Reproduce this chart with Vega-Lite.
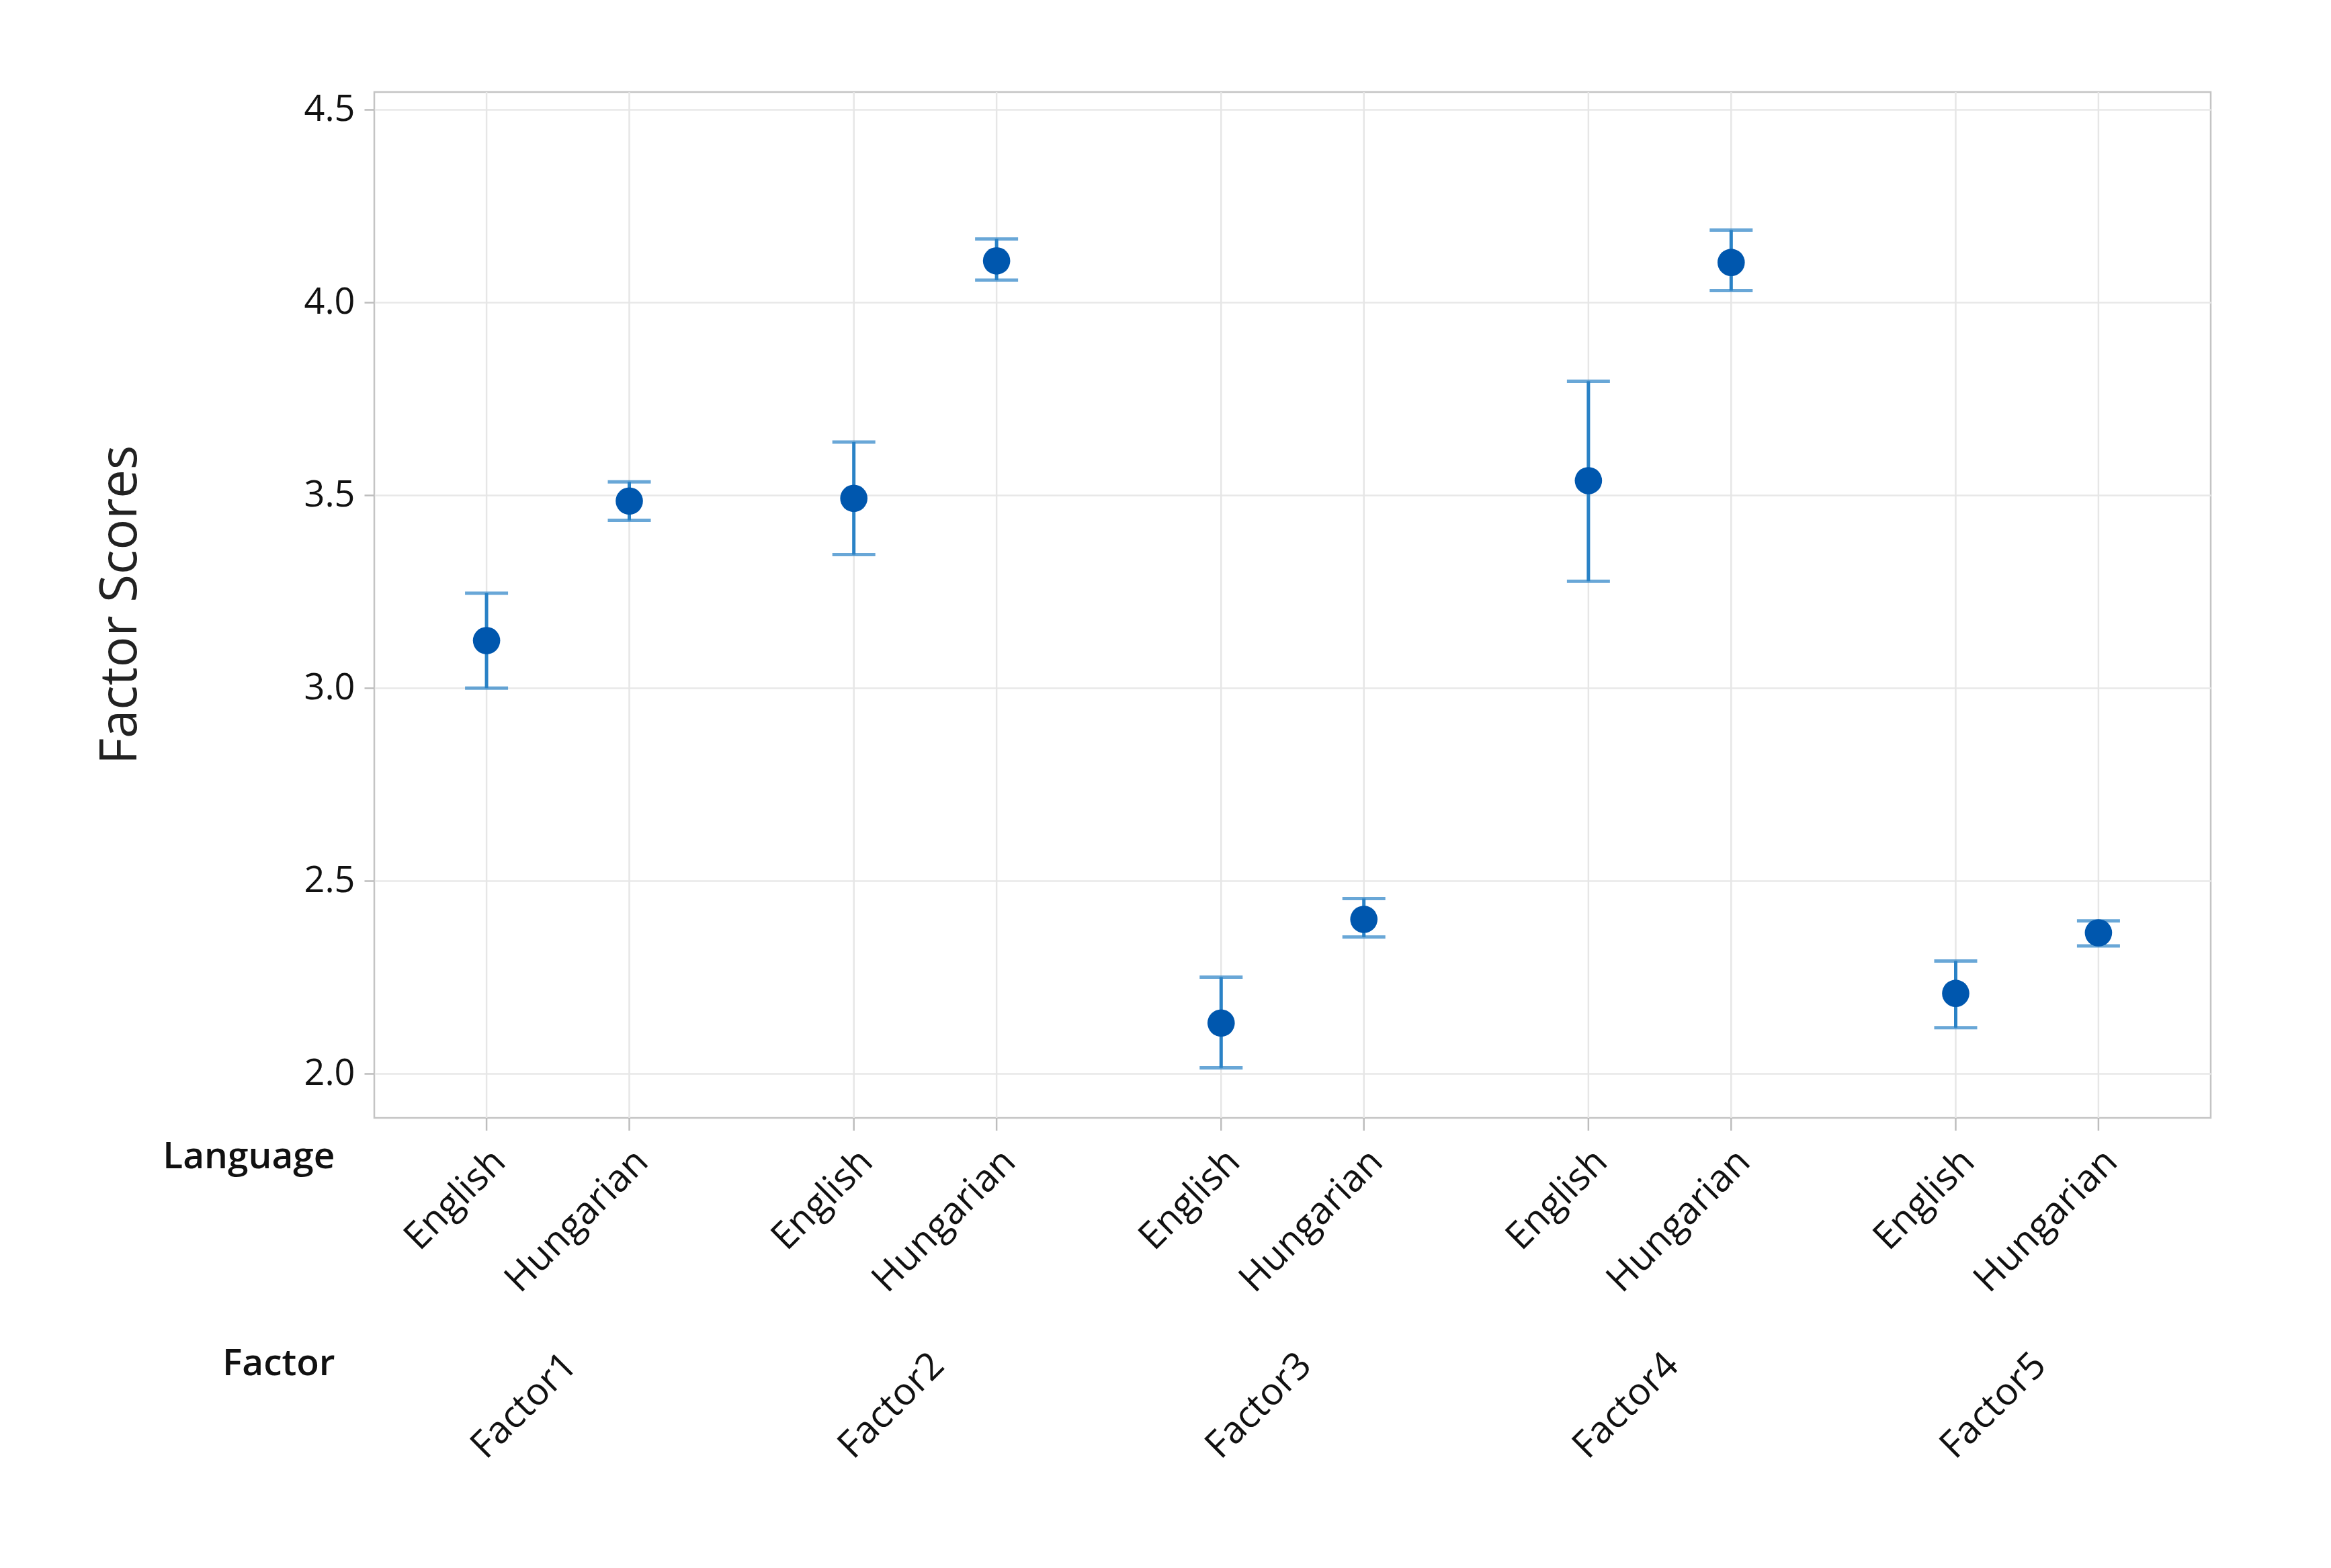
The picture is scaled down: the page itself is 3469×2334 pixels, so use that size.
{
  "$schema": "https://vega.github.io/schema/vega-lite/v6.json",
  "width": 2733,
  "height": 1527,
  "autosize": {"type": "none"},
  "padding": {"left": 557, "top": 137, "right": 179, "bottom": 670},
  "background": "white",
  "config": {
    "font": "Open Sans",
    "view": {"stroke": "#c4c4c4", "strokeWidth": 2.5}
  },
  "data": {
    "values": [
      {"factor": "Factor1", "language": "English", "mean": 3.123, "lower": 3.000, "upper": 3.246},
      {"factor": "Factor1", "language": "Hungarian", "mean": 3.485, "lower": 3.435, "upper": 3.535},
      {"factor": "Factor2", "language": "English", "mean": 3.492, "lower": 3.346, "upper": 3.638},
      {"factor": "Factor2", "language": "Hungarian", "mean": 4.108, "lower": 4.058, "upper": 4.165},
      {"factor": "Factor3", "language": "English", "mean": 2.131, "lower": 2.015, "upper": 2.250},
      {"factor": "Factor3", "language": "Hungarian", "mean": 2.400, "lower": 2.354, "upper": 2.454},
      {"factor": "Factor4", "language": "English", "mean": 3.538, "lower": 3.277, "upper": 3.796},
      {"factor": "Factor4", "language": "Hungarian", "mean": 4.104, "lower": 4.031, "upper": 4.188},
      {"factor": "Factor5", "language": "English", "mean": 2.208, "lower": 2.119, "upper": 2.292},
      {"factor": "Factor5", "language": "Hungarian", "mean": 2.365, "lower": 2.331, "upper": 2.396}
    ]
  },
  "resolve": {"axis": {"x": "independent"}},
  "layer": [
    {
      "mark": {"type": "rule", "color": "#e6e6e6", "strokeWidth": 2.5},
      "encoding": {
        "x": {"field": "factor", "type": "nominal", "scale": {"paddingInner": 0, "paddingOuter": 0}, "axis": null},
        "xOffset": {"field": "language", "type": "nominal", "scale": {"paddingInner": 0, "paddingOuter": 0.2865}}
      }
    },
    {
      "mark": {"type": "rule", "color": "#bdbdbd", "strokeWidth": 2.5},
      "encoding": {
        "x": {"field": "factor", "type": "nominal", "axis": null},
        "xOffset": {"field": "language", "type": "nominal"},
        "y": {
          "datum": 1.885,
          "type": "quantitative",
          "scale": {"domain": [1.885, 4.546], "nice": false, "zero": false},
          "axis": {
            "title": "Factor Scores",
            "values": [2.0, 2.5, 3.0, 3.5, 4.0, 4.5],
            "format": ".1f",
            "grid": true,
            "gridColor": "#e8e8e8",
            "gridWidth": 2.5,
            "domain": false,
            "tickColor": "#bdbdbd",
            "tickSize": 15,
            "tickWidth": 2.5,
            "labelFontSize": 54,
            "labelColor": "#111111",
            "labelPadding": 14,
            "titleFontSize": 76,
            "titleFontWeight": "normal",
            "titleColor": "#222222",
            "titleX": -378,
            "titleY": 763,
            "titleAngle": -90,
            "titleAlign": "center",
            "titleBaseline": "middle"
          }
        },
        "y2": {"datum": 1.852}
      }
    },
    {
      "mark": {"type": "rule", "color": "#2a82c6", "strokeWidth": 5},
      "encoding": {
        "x": {"field": "factor", "type": "nominal", "axis": null},
        "xOffset": {"field": "language", "type": "nominal"},
        "y": {"field": "lower", "type": "quantitative"},
        "y2": {"field": "upper"}
      }
    },
    {
      "mark": {"type": "tick", "color": "#2a82c6", "size": 64, "thickness": 5, "orient": "horizontal"},
      "encoding": {
        "x": {"field": "factor", "type": "nominal", "axis": null},
        "xOffset": {"field": "language", "type": "nominal"},
        "y": {"field": "upper", "type": "quantitative"}
      }
    },
    {
      "mark": {"type": "tick", "color": "#2a82c6", "size": 64, "thickness": 5, "orient": "horizontal"},
      "encoding": {
        "x": {"field": "factor", "type": "nominal", "axis": null},
        "xOffset": {"field": "language", "type": "nominal"},
        "y": {"field": "lower", "type": "quantitative"}
      }
    },
    {
      "mark": {"type": "circle", "color": "#0057ae", "size": 1650, "opacity": 1},
      "encoding": {
        "x": {
          "field": "factor",
          "type": "nominal",
          "axis": {
            "orient": "bottom",
            "offset": 330,
            "title": "Factor",
            "titleFontSize": 55,
            "titleFontWeight": 600,
            "titleColor": "#111111",
            "titleX": -59,
            "titleY": 35,
            "titleAlign": "right",
            "titleBaseline": "middle",
            "titleAngle": 0,
            "labelAngle": -45,
            "labelAlign": "right",
            "labelBaseline": "top",
            "labelFontSize": 56,
            "labelColor": "#111111",
            "labelPadding": 10,
            "labelLimit": 1000,
            "ticks": false,
            "domain": false,
            "grid": false
          }
        },
        "xOffset": {"field": "language", "type": "nominal"},
        "y": {"field": "mean", "type": "quantitative"}
      }
    },
    {
      "mark": {"type": "text", "angle": -45, "align": "right", "baseline": "top", "fontSize": 56, "color": "#111111"},
      "encoding": {
        "x": {
          "field": "factor",
          "type": "nominal",
          "axis": {
            "orient": "bottom",
            "offset": 0,
            "title": "Language",
            "titleFontSize": 55,
            "titleFontWeight": 600,
            "titleColor": "#111111",
            "titleX": -59,
            "titleY": 57,
            "titleAlign": "right",
            "titleBaseline": "middle",
            "titleAngle": 0,
            "labels": false,
            "ticks": false,
            "domain": false,
            "grid": false
          }
        },
        "xOffset": {"field": "language", "type": "nominal"},
        "y": {"datum": 1.82, "type": "quantitative"},
        "text": {"field": "language", "type": "nominal"}
      }
    }
  ]
}
